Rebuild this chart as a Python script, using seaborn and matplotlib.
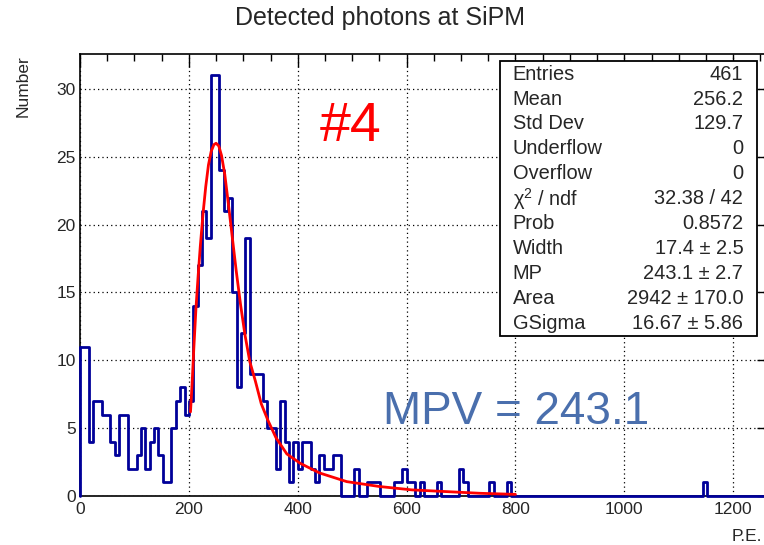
import numpy as np
import pandas as pd
import seaborn as sns
import matplotlib.pyplot as plt
from matplotlib.patches import Rectangle
from matplotlib.ticker import MultipleLocator

# histogram: 160 bins of 8 P.E. from 0 to 1280
bin_width = 8
n_bins = 160
counts = [0] * n_bins
low_counts = [11, 11, 4, 7, 7, 6, 6, 4, 3, 6, 6, 2, 2, 3, 5, 2, 4, 5, 3, 1, 1, 5, 7, 8, 6]
peak_counts = [7, 14, 17, 21, 19, 31, 31, 24, 21, 22, 15, 8, 12, 19, 9, 9, 9]
tail_counts = [7, 5, 5, 2, 7, 4, 1, 4, 2, 4, 4, 2, 1, 3, 2, 2, 3, 3, 0, 0, 0, 2,
               0, 0, 1, 1, 1, 0, 0, 0, 1, 1, 2, 1, 1, 0, 1, 0, 0, 0, 1, 0, 0, 0, 0, 2, 1,
               0, 0, 0, 0, 0, 1, 0, 0, 0, 1]
far_counts = {143: 1}

# fitted Landau x Gauss curve
fit_x = [203, 206, 209, 213, 217, 221, 226, 231, 236, 241, 246, 250, 255, 260, 266, 273,
         280, 287, 295, 303, 312, 322, 333, 345, 360, 380, 405, 440, 490, 550, 610, 675, 735, 800]
fit_y = [6.2, 8.3, 10.8, 13.8, 16.2, 18.4, 20.8, 22.8, 24.4, 25.4, 25.9, 26.0, 25.8, 25.1, 23.7, 21.4,
         19.0, 16.6, 14.1, 11.9, 9.9, 8.5, 6.8, 5.6, 4.3, 3.1, 2.4, 1.7, 1.06, 0.7, 0.45, 0.32, 0.2, 0.12]

stat_names = ["Entries", "Mean", "Std Dev", "Underflow", "Overflow", "χ$^{2}$ / ndf",
              "Prob", "Width", "MP", "Area", "GSigma"]
stat_values = ["461", "256.2", "129.7", "0", "0", "32.38 / 42", "0.8572",
               "17.4 ± 2.5", "243.1 ± 2.7", "2942 ± 170.0", "16.67 ± 5.86"]

vals = low_counts + peak_counts + tail_counts
counts[:len(vals)] = vals
for k, v in far_counts.items():
    counts[k] = v
edges = np.arange(n_bins + 1) * bin_width
df = pd.DataFrame({"pe": edges[:-1] + bin_width / 2, "n": counts})

sns.set_style("white")
plt.rcParams['font.family'] = ['Liberation Sans', 'DejaVu Sans']
plt.rcParams['mathtext.fontset'] = 'custom'
plt.rcParams['mathtext.rm'] = 'Liberation Sans'
plt.rcParams['mathtext.it'] = 'Liberation Sans:italic'

dpi = 100
fig = plt.figure(figsize=(764 / dpi, 545 / dpi), dpi=dpi)
ax = fig.add_axes([80 / 764, 49 / 545, 696.7 / 764, 441.6 / 545])

hist_color = '#000099'
sns.histplot(data=df, x="pe", weights="n", bins=n_bins, binrange=(0, n_bins * bin_width),
             element='step', fill=False, color=hist_color, linewidth=2.0, ax=ax, zorder=3)
for ln in ax.lines:
    ln.set_clip_on(False)
ax.plot([0, 0], [0, counts[0]], color=hist_color, lw=2.0, zorder=3, clip_on=False)

sns.lineplot(x=fit_x, y=fit_y, color='red', linewidth=2.0, ax=ax, sort=False,
             estimator=None, zorder=4)

ax.set_xlim(0, 1280)
ax.set_ylim(0, 32.55)
ax.set_xlabel('')
ax.set_ylabel('')

ax.xaxis.set_major_locator(MultipleLocator(200))
ax.xaxis.set_minor_locator(MultipleLocator(50))
ax.yaxis.set_major_locator(MultipleLocator(5))
ax.yaxis.set_minor_locator(MultipleLocator(1))
ax.tick_params(axis='both', which='both', direction='in', top=True, right=True,
               labelsize=12.5, width=1.0, color='black')
ax.tick_params(axis='y', which='major', length=14.4, pad=3)
ax.tick_params(axis='y', which='minor', length=7.2)
ax.tick_params(axis='x', which='major', length=9.4, pad=4)
ax.tick_params(axis='x', which='minor', length=4.7)
ax.grid(True, which='major', color='black', linestyle=(0, (1, 2.5)), linewidth=0.9)
ax.set_axisbelow(True)
for s in ax.spines.values():
    s.set_linewidth(1.2)
    s.set_color('black')

# stats box
bx0, bx1, by0, by1 = 0.6028, 0.9713, 0.3616, 0.9857
box = Rectangle((bx0, by0), bx1 - bx0, by1 - by0, transform=ax.transAxes,
                facecolor='white', edgecolor='black', linewidth=1.3, zorder=10)
ax.add_patch(box)
for i, (nm, vl) in enumerate(zip(stat_names, stat_values)):
    yy = 0.9556 - i * 0.0566
    ax.text(0.6211, yy, nm, transform=ax.transAxes, ha='left', va='center',
            fontsize=14.4, zorder=11)
    ax.text(0.9521, yy, vl, transform=ax.transAxes, ha='right', va='center',
            fontsize=14.4, zorder=11)

ax.text(498, 27.2, "#4", color='red', fontsize=40, ha='center', va='center')
ax.text(801, 6.2, "MPV = 243.1", color='#4a6fad', fontsize=33, ha='center', va='center')

fig.text(0.497, 0.967, "Detected photons at SiPM", ha='center', va='center', fontsize=18)
fig.text(0.030, 0.899, "Number", rotation=90, ha='center', va='top', fontsize=12.5)
fig.text(762 / 764, 0.0165, "P.E.", ha='right', va='center', fontsize=12.5)

fig.savefig('out.png', dpi=dpi)
